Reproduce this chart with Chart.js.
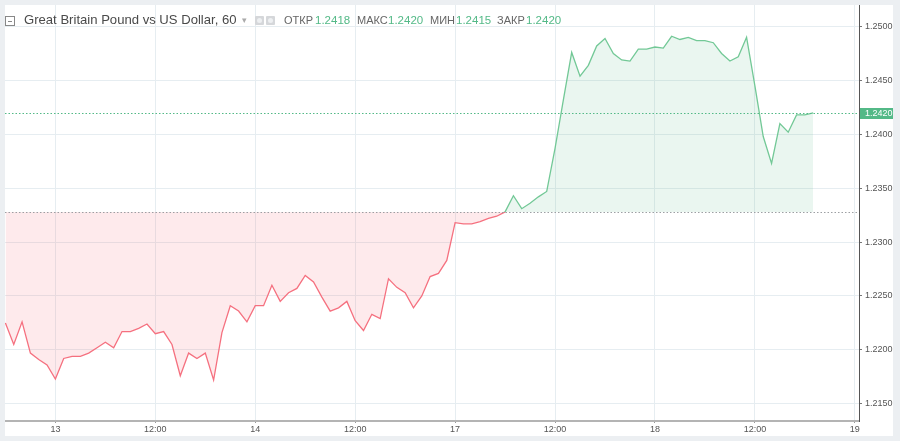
<!DOCTYPE html>
<html>
<head>
<meta charset="utf-8">
<script src="https://cdn.jsdelivr.net/npm/chart.js@4.4.0/dist/chart.umd.min.js"></script>
<style>
  html, body { margin: 0; padding: 0; background: #eceff2; width: 900px; height: 441px; overflow: hidden; }
  #wrap { position: absolute; left: 5px; top: 5px; width: 888px; height: 431px; background: #fff; }
  #wrap canvas { position: absolute; left: 0; top: 0; }
  #legend { position: absolute; left: 0; top: 0; height: 30px; width: 600px; font-family: "Liberation Sans", Arial, sans-serif; pointer-events: none; }
  #legend span { position: absolute; top: 7px; line-height: 16px; white-space: nowrap; }
  .ttl { font-size: 13.1px; color: #4a4a4a; }
  .lbl { font-size: 11px; color: #666; }
  .val { font-size: 11.5px; color: #53b987; }
  .ico { width: 9px; height: 9px; background: #d5d7da; top: 11px !important; border-radius: 1px; }
  .ico i { position: absolute; left: 2px; top: 2px; width: 5px; height: 5px; border-radius: 50%; background: #eef0f2; }
  .box { width: 8px; height: 8px; border: 1px solid #888; top: 11px !important; }
  .box i { position: absolute; left: 2px; top: 4px; width: 4px; height: 1px; background: #888; }
</style>
</head>
<body>
<div id="wrap">
  <canvas id="chart" width="888" height="431"></canvas>
  <div id="legend">
    <span class="box"><i></i></span>
    <span class="ttl" style="left:19px">Great Britain Pound vs US Dollar, 60</span>
    <span class="lbl" style="left:237px;color:#aaa;font-size:9px">&#9662;</span>
    <span class="ico" style="left:250px"><i></i></span>
    <span class="ico" style="left:261px"><i></i></span>
    <span class="lbl" style="left:279px">ОТКР</span>
    <span class="val" style="left:310px">1.2418</span>
    <span class="lbl" style="left:352px">МАКС</span>
    <span class="val" style="left:383px">1.2420</span>
    <span class="lbl" style="left:425px">МИН</span>
    <span class="val" style="left:451px">1.2415</span>
    <span class="lbl" style="left:492px">ЗАКР</span>
    <span class="val" style="left:521px">1.2420</span>
  </div>
</div>
<script>
// hourly closes, GBP/USD, 12th 18:00 .. 18th 19:00 (weekend skipped)
const prices = [
  1.2225, 1.2205, 1.2226, 1.2197, 1.2191, 1.2186, 1.2173, 1.2192, 1.2194, 1.2194,
  1.2197, 1.2202, 1.2207, 1.2202, 1.2217, 1.2217, 1.2220, 1.2224, 1.2215, 1.2217,
  1.2205, 1.2176, 1.2197, 1.2192, 1.2197, 1.2172, 1.2216, 1.2241, 1.2236, 1.2226,
  1.2241, 1.2241, 1.2260, 1.2245, 1.2253, 1.2257, 1.2269, 1.2263, 1.2249, 1.2236,
  1.2239, 1.2245, 1.2227, 1.2218, 1.2233, 1.2229, 1.2266, 1.2258, 1.2253, 1.2239,
  1.2250, 1.2268, 1.2271, 1.2283, 1.2318, 1.2317, 1.2317, 1.2319, 1.2322, 1.2324,
  1.2328, 1.2343, 1.2331, 1.2336, 1.2342, 1.2347, 1.2387, 1.2432, 1.2476, 1.2454,
  1.2464, 1.2482, 1.2489, 1.2475, 1.2469, 1.2468, 1.2479, 1.2479, 1.2481, 1.2480,
  1.2491, 1.2488, 1.2490, 1.2487, 1.2487, 1.2485, 1.2475, 1.2468, 1.2472, 1.2490,
  1.2445, 1.2398, 1.2373, 1.2410, 1.2402, 1.2418, 1.2418, 1.2420
];
const xTickPos = [6, 18, 30, 42, 54, 66, 78, 90, 102];
const xTickLabels = ["13", "12:00", "14", "12:00", "17", "12:00", "18", "12:00", "19"];
const yTicks = [1.215, 1.220, 1.225, 1.230, 1.235, 1.240, 1.245, 1.250];
const baseLevel = 1.2328;
const lastPrice = 1.2420;

const green = "#72c896";
const red = "#f5707f";
const greenFill = "rgba(83,185,135,0.12)";
const redFill = "rgba(245,90,110,0.13)";
const axisFont = { family: "'Liberation Sans', Arial, sans-serif", size: 9 };

// line colour switches at the base level
function splitColor(context) {
  const chart = context.chart;
  const area = chart.chartArea;
  if (!area) return green;
  const yb = chart.scales.y.getPixelForValue(baseLevel);
  let s = (yb - area.top) / (area.bottom - area.top);
  s = Math.min(Math.max(s, 0), 1);
  const g = chart.ctx.createLinearGradient(0, area.top, 0, area.bottom);
  g.addColorStop(0, green);
  g.addColorStop(s, green);
  g.addColorStop(s, red);
  g.addColorStop(1, red);
  return g;
}

const levels = {
  id: "levels",
  afterDatasetsDraw(chart) {
    const c = chart.ctx, a = chart.chartArea, y = chart.scales.y;
    c.save();
    c.lineWidth = 1;
    c.setLineDash([1.5, 2]);
    let yb = Math.round(y.getPixelForValue(baseLevel)) + 0.5;
    c.strokeStyle = "#9c9fa3";
    c.beginPath(); c.moveTo(a.left, yb); c.lineTo(a.right, yb); c.stroke();
    let yp = Math.round(y.getPixelForValue(lastPrice)) + 0.5;
    c.strokeStyle = "#53b987";
    c.beginPath(); c.moveTo(a.left, yp); c.lineTo(a.right, yp); c.stroke();
    c.restore();
  },
  afterDraw(chart) {
    const c = chart.ctx, a = chart.chartArea, y = chart.scales.y;
    const yp = Math.round(y.getPixelForValue(lastPrice));
    c.save();
    c.fillStyle = "#53b987";
    c.fillRect(a.right + 1, yp - 5, 35, 11);
    c.fillStyle = "#fff";
    c.font = "9px 'Liberation Sans', Arial, sans-serif";
    c.textBaseline = "middle";
    c.fillText(lastPrice.toFixed(4), a.right + 6, yp + 0.5);
    c.restore();
  }
};

new Chart(document.getElementById("chart"), {
  type: "line",
  data: {
    datasets: [{
      data: prices.map((v, i) => ({ x: i, y: v })),
      borderColor: splitColor,
      borderWidth: 1.3,
      pointRadius: 0,
      tension: 0,
      fill: { target: { value: baseLevel }, above: greenFill, below: redFill }
    }]
  },
  options: {
    responsive: false,
    animation: false,
    layout: { padding: 0 },
    plugins: { legend: { display: false }, tooltip: { enabled: false } },
    scales: {
      x: {
        type: "linear",
        min: -0.05,
        max: 102.5,
        afterBuildTicks: (s) => { s.ticks = xTickPos.map((v) => ({ value: v })); },
        afterFit: (s) => { s.height = 15; s.paddingLeft = 0; s.paddingRight = 0; },
        ticks: {
          autoSkip: false,
          maxRotation: 0,
          padding: 1,
          color: "#555",
          font: axisFont,
          callback: (v) => xTickLabels[xTickPos.indexOf(v)]
        },
        grid: { color: "#e6edf1", tickColor: "#999", tickLength: 2 },
        border: { color: "#b4b4b4", width: 2 }
      },
      y: {
        position: "right",
        min: 1.2134,
        max: 1.2520,
        afterBuildTicks: (s) => { s.ticks = yTicks.map((v) => ({ value: v })); },
        afterFit: (s) => { s.width = 34; s.paddingTop = 0; s.paddingBottom = 0; },
        ticks: {
          padding: 3,
          color: "#555",
          font: axisFont,
          callback: (v) => v.toFixed(4)
        },
        grid: { color: "#e6edf1", tickColor: "#777", tickLength: 3 },
        border: { color: "#555", width: 1 }
      }
    }
  },
  plugins: [levels]
});
</script>
</body>
</html>
